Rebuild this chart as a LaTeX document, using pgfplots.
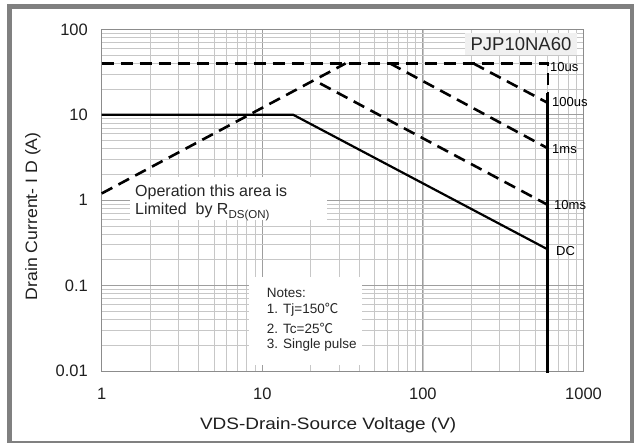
\documentclass[border=0pt]{standalone}
\usepackage{fontspec}
\setmainfont{Liberation Sans}
\newfontfamily\cjk{Noto Sans CJK SC}
\usepackage{pgfplots}
\pgfplotsset{compat=1.18}
\begin{document}
\begin{tikzpicture}[x=1pt,y=1pt]
\useasboundingbox (0,0) rectangle (634,442);
\fill[white] (0,0) rectangle (634,442);
\begin{axis}[
 at={(101.7pt,71pt)}, anchor=south west,
 scale only axis, width=481.8pt, height=341.6pt,
 xmode=log, ymode=log, xmin=1, xmax=1000, ymin=0.01, ymax=100,
 xtick={1,10,100,1000}, xticklabels={1,10,100,1000},
 ytick={0.01,0.1,1,10,100}, yticklabels={0.01,0.1,1,10,100},
 grid=both,
 major grid style={black!38, line width=1pt},
 minor grid style={black!22, line width=0.8pt},
 major tick length=0pt, minor tick length=0pt,
 axis line style={black!45, line width=1pt},
 tick label style={font=\fontsize{16.5}{19}\selectfont, inner sep=0pt, text=black!88},
 xticklabel style={anchor=north, yshift=-16.5pt},
 yticklabel style={anchor=east, xshift=-13.7pt},
 /pgf/number format/assume math mode=true,
 xlabel={\scalebox{1.15}[1]{VDS-Drain-Source Voltage (V)}},
 ylabel={\scalebox{1.07}[1]{Drain Current- I D (A)}},
 label style={font=\fontsize{16.5}{19}\selectfont, text=black!88},
 xlabel style={at={(axis description cs:0.47,-0.16)}, anchor=center, inner sep=0pt},
 ylabel style={at={(axis description cs:-0.143,0.453)}, anchor=center, inner sep=0pt},
 clip=false,
]
% text boxes covering grid
\fill[white] (rel axis cs:0.0587,0.442) rectangle (rel axis cs:0.4675,0.568);
\fill[white] (rel axis cs:0.306,0.0173) rectangle (rel axis cs:0.5404,0.275);
\fill[black!6] (rel axis cs:0.7541,0.9248) rectangle (rel axis cs:0.9866,0.9892);

% RDS(on) limit
\addplot[black, line width=2.6pt, dash pattern=on 12pt off 7pt] coordinates {(1,1.2) (33,40)};
% 10us
\addplot[black, line width=2.6pt, dash pattern=on 12pt off 7pt] coordinates {(1,40) (600,40) (600,18)};
% 100us
\addplot[black, line width=2.6pt, dash pattern=on 12pt off 7pt] coordinates {(206,40) (590,14)};
% 1ms
\addplot[black, line width=2.6pt, dash pattern=on 12pt off 7pt] coordinates {(62.4,40) (600,4.05)};
% 10ms
\addplot[black, line width=2.6pt, dash pattern=on 12pt off 7pt] coordinates {(22.9,23.3) (600,0.88)};
% DC
\addplot[black, line width=2.2pt] coordinates {(1,10) (15.6,10) (600,0.265)};
% VDSS limit
\addplot[black, line width=3pt] coordinates {(600,18) (600,0.0095)};

\node[anchor=center, font=\fontsize{18.5}{20}\selectfont, text=black!85] at (rel axis cs:0.8703,0.957) {PJP10NA60};

\node[anchor=west, inner sep=0pt, font=\fontsize{13}{14}\selectfont] at (rel axis cs:0.9305,0.8896) {10us};
\node[anchor=west, inner sep=0pt, font=\fontsize{13}{14}\selectfont] at (rel axis cs:0.9346,0.787) {100us};
\node[anchor=west, inner sep=0pt, font=\fontsize{13}{14}\selectfont] at (rel axis cs:0.9346,0.6496) {1ms};
\node[anchor=west, inner sep=0pt, font=\fontsize{13}{14}\selectfont] at (rel axis cs:0.9388,0.4856) {10ms};
\node[anchor=west, inner sep=0pt, font=\fontsize{13}{14}\selectfont] at (rel axis cs:0.943,0.351) {DC};

\node[anchor=west, inner sep=0pt, font=\fontsize{16}{18}\selectfont, text=black!85] at (rel axis cs:0.0691,0.5237) {Operation this area is};
\node[anchor=west, inner sep=0pt, font=\fontsize{16}{18}\selectfont, text=black!85] at (rel axis cs:0.0691,0.4651) {Limited\ \ by R\raisebox{-3.5pt}{\fontsize{11.5}{12}\selectfont DS(ON)}};

\node[anchor=west, inner sep=0pt, font=\fontsize{13.5}{15}\selectfont, text=black!85] at (rel axis cs:0.3425,0.228) {Notes:};
\node[anchor=west, inner sep=0pt, font=\fontsize{13.5}{15}\selectfont, text=black!85] at (rel axis cs:0.3425,0.178) {1. Tj=150{\cjk ℃}};
\node[anchor=west, inner sep=0pt, font=\fontsize{13.5}{15}\selectfont, text=black!85] at (rel axis cs:0.3425,0.1256) {2. Tc=25{\cjk ℃}};
\node[anchor=west, inner sep=0pt, font=\fontsize{13.5}{15}\selectfont, text=black!85] at (rel axis cs:0.3425,0.0758) {3. Single pulse};
\end{axis}
\draw[black!50, line width=5pt] (9.8,435.5) rectangle (632,-1);
\end{tikzpicture}
\end{document}
